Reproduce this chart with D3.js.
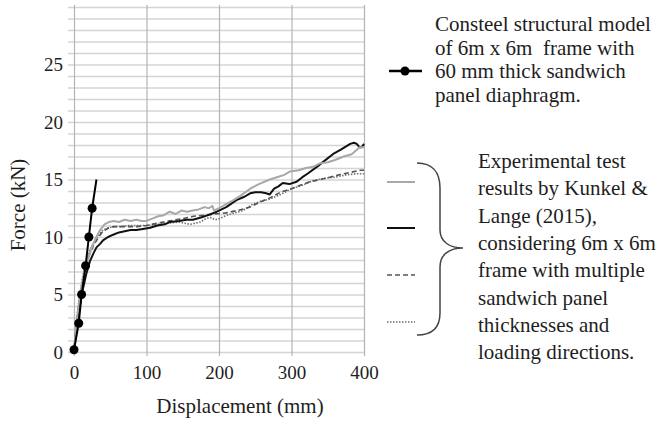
<!DOCTYPE html>
<html>
<head>
<meta charset="utf-8">
<script src="https://cdn.jsdelivr.net/npm/d3@7"></script>
<style>
  body { margin: 0; background: #fff; }
  svg { display: block; }
  svg text { font-family: "Liberation Serif", "Times New Roman", serif; }
</style>
</head>
<body>
<div id="chart"></div>
<script>
// Consteel model (markers on the first six points only)
const consteelDisp  = [0, 6.5, 10.5, 16, 20.5, 25, 31];
const consteelForce = [0.2, 2.5, 5, 7.5, 10, 12.5, 15];
const consteelMarked = 6;

// Kunkel & Lange experimental curves
const grayDisp  = [0, 3, 7, 12, 18, 24, 30, 36, 42, 48, 55, 62, 70, 78, 86, 93, 100, 108, 116, 124, 132, 140, 148, 156, 164, 172, 180, 186, 191, 193, 200, 211, 220, 230, 243, 255, 270, 280, 290, 298, 310, 320, 330, 339, 350, 360, 372, 383, 394, 400];
const grayForce = [0, 2.2, 4.3, 6.3, 7.8, 9.0, 9.9, 10.6, 11.1, 11.3, 11.4, 11.3, 11.5, 11.4, 11.5, 11.4, 11.4, 11.6, 11.8, 11.9, 12.2, 12.0, 12.3, 12.2, 12.3, 12.4, 12.6, 12.5, 12.7, 12.3, 12.5, 12.9, 13.2, 13.6, 14.2, 14.6, 15.0, 15.2, 15.4, 15.7, 15.8, 16.0, 16.1, 16.4, 16.5, 16.7, 17.0, 17.2, 17.8, 17.8];

const blackDisp  = [0, 3, 7, 12, 17, 22, 27, 31, 36, 40, 47, 54, 62, 70, 78, 86, 95, 105, 115, 125, 132, 145, 155, 164, 175, 185, 197, 210, 224, 235, 243, 250, 258, 265, 270, 276, 282, 288, 297, 307, 315, 322, 335, 345, 357, 368, 381, 386, 390, 394, 397, 400];
const blackForce = [0, 1.8, 3.6, 5.4, 6.8, 7.9, 8.6, 9.1, 9.4, 9.7, 10.0, 10.2, 10.4, 10.5, 10.6, 10.6, 10.7, 10.8, 11.0, 11.1, 11.3, 11.4, 11.5, 11.5, 11.7, 11.9, 12.2, 12.6, 13.2, 13.5, 13.8, 13.9, 13.9, 13.8, 13.7, 14.2, 14.4, 14.7, 14.6, 14.8, 15.2, 15.5, 16.1, 16.6, 17.2, 17.6, 18.1, 18.2, 18.1, 17.8, 17.8, 18.1];

const dashDisp  = [0, 3, 7, 12, 17, 22, 28, 34, 40, 48, 55, 65, 75, 86, 100, 115, 132, 150, 165, 180, 195, 210, 225, 243, 255, 270, 285, 300, 312, 325, 340, 353, 365, 380, 394, 400];
const dashForce = [0, 2.2, 4.3, 6.2, 7.6, 8.6, 9.4, 10.0, 10.5, 10.8, 10.9, 10.9, 10.9, 10.9, 11.0, 11.2, 11.4, 11.6, 11.8, 11.9, 12.0, 12.1, 12.3, 12.6, 13.0, 13.4, 13.9, 14.2, 14.5, 14.8, 15.0, 15.2, 15.4, 15.6, 15.8, 15.8];

const dotDisp  = [0, 3, 7, 12, 17, 22, 28, 34, 40, 48, 55, 65, 75, 86, 100, 115, 130, 145, 160, 167, 174, 182, 188, 195, 201, 211, 222, 233, 245, 257, 270, 285, 300, 315, 330, 345, 360, 375, 390, 400];
const dotForce = [0, 2.4, 4.6, 6.6, 7.9, 8.9, 9.6, 10.2, 10.6, 10.8, 10.9, 10.9, 11.0, 11.0, 11.0, 11.1, 11.2, 11.3, 11.1, 11.2, 11.3, 11.6, 11.7, 11.5, 11.6, 11.9, 12.1, 12.3, 12.8, 13.1, 13.3, 13.7, 14.2, 14.5, 14.9, 15.1, 15.2, 15.4, 15.5, 15.5];

const xTicks = [0, 100, 200, 300, 400];
const yTicks = [0, 5, 10, 15, 20, 25];

const legendModel = ['Consteel structural model', 'of 6m x 6m  frame with', '60 mm thick sandwich', 'panel diaphragm.'];
const legendTest = ['Experimental test', 'results by Kunkel &', 'Lange (2015),', 'considering 6m x 6m', 'frame with multiple', 'sandwich panel', 'thicknesses and', 'loading directions.'];

const zip = (xs, ys) => xs.map((d, i) => ({ x: d, y: ys[i] }));

const svg = d3.select('#chart').append('svg')
    .attr('width', 661)
    .attr('height', 421);

const x = d3.scaleLinear().domain([0, 400]).range([74, 364]);
const y = d3.scaleLinear().domain([0, 30]).range([352, 7]);

// horizontal grid, one per kN, with small ticks left of the axis
svg.append('g')
    .attr('transform', 'translate(68,0)')
    .call(d3.axisLeft(y).tickValues(d3.range(0, 31)).tickSize(-(364 - 68)).tickFormat(''))
    .call(g => g.select('.domain').remove())
    .call(g => g.selectAll('.tick line').attr('stroke', '#d4d4d4').attr('stroke-width', 1.5));

// vertical grid
svg.append('g')
    .attr('transform', 'translate(0,356)')
    .call(d3.axisBottom(x).tickValues(xTicks).tickSize(-(356 - 5)).tickFormat(''))
    .call(g => g.select('.domain').remove())
    .call(g => g.selectAll('.tick line').attr('stroke', '#b4b4b4').attr('stroke-width', 1.2));

// tick labels
svg.append('g')
    .attr('transform', 'translate(68,0)')
    .call(d3.axisLeft(y).tickValues(yTicks).tickSize(0).tickPadding(5))
    .call(g => g.select('.domain').remove())
    .call(g => g.selectAll('text').attr('font-size', 19).attr('fill', '#1e1e1e'));

svg.append('g')
    .attr('transform', 'translate(0,361)')
    .call(d3.axisBottom(x).tickValues(xTicks).tickSize(0).tickPadding(5))
    .call(g => g.select('.domain').remove())
    .call(g => g.selectAll('text').attr('font-size', 19).attr('fill', '#1e1e1e'));

// axis titles
svg.append('text')
    .attr('x', 240).attr('y', 413)
    .attr('text-anchor', 'middle')
    .attr('font-size', 21).attr('fill', '#1e1e1e')
    .text('Displacement (mm)');

svg.append('text')
    .attr('transform', 'translate(25,205) rotate(-90)')
    .attr('text-anchor', 'middle')
    .attr('font-size', 21).attr('fill', '#1e1e1e')
    .text('Force (kN)');

const line = d3.line().x(d => x(d.x)).y(d => y(d.y));

// legend order: light gray, black, dashed, dotted
const series = [
    { data: zip(grayDisp, grayForce), color: '#a8a8a8', width: 2, dash: null },
    { data: zip(blackDisp, blackForce), color: '#111', width: 2, dash: null },
    { data: zip(dashDisp, dashForce), color: '#555', width: 1.6, dash: '5,3' },
    { data: zip(dotDisp, dotForce), color: '#6e6e6e', width: 1.6, dash: '1.5,1.5' }
];

// draw back to front
series.slice().reverse().forEach(s => {
    svg.append('path')
        .datum(s.data)
        .attr('fill', 'none')
        .attr('stroke', s.color)
        .attr('stroke-width', s.width)
        .attr('stroke-dasharray', s.dash)
        .attr('stroke-linejoin', 'round')
        .attr('d', line);
});

const consteel = zip(consteelDisp, consteelForce);
svg.append('path')
    .datum(consteel)
    .attr('fill', 'none')
    .attr('stroke', '#000')
    .attr('stroke-width', 2)
    .attr('d', line);

svg.selectAll('.dot')
    .data(consteel.slice(0, consteelMarked))
    .enter().append('circle')
    .attr('class', 'dot')
    .attr('cx', d => x(d.x))
    .attr('cy', d => y(d.y))
    .attr('r', 4.5)
    .attr('fill', '#000');

// legend: model
svg.append('line')
    .attr('x1', 389).attr('x2', 422).attr('y1', 71).attr('y2', 71)
    .attr('stroke', '#000').attr('stroke-width', 2.5);
svg.append('circle')
    .attr('cx', 405).attr('cy', 71).attr('r', 4.5).attr('fill', '#000');

svg.append('g').selectAll('text')
    .data(legendModel)
    .enter().append('text')
    .attr('x', 435)
    .attr('y', (d, i) => 31 + i * 23.6)
    .attr('font-size', 21).attr('fill', '#1e1e1e')
    .style('white-space', 'pre')
    .text(d => d);

// legend: experimental samples
const legendY = [182, 228, 275, 322];
series.forEach((s, i) => {
    svg.append('line')
        .attr('x1', 387).attr('x2', 415)
        .attr('y1', legendY[i]).attr('y2', legendY[i])
        .attr('stroke', s.color)
        .attr('stroke-width', s.width)
        .attr('stroke-dasharray', s.dash);
});

// brace
svg.append('path')
    .attr('d', 'M417,163 C432,163 440,172 440,188 L440,230 C440,242 450,248 463,248 C450,248 440,254 440,267 L440,313 C440,328 432,335 417,335')
    .attr('fill', 'none')
    .attr('stroke', '#444')
    .attr('stroke-width', 1.5);

svg.append('g').selectAll('text')
    .data(legendTest)
    .enter().append('text')
    .attr('x', 478)
    .attr('y', (d, i) => 168 + i * 27.3)
    .attr('font-size', 21).attr('fill', '#1e1e1e')
    .text(d => d);
</script>
</body>
</html>
